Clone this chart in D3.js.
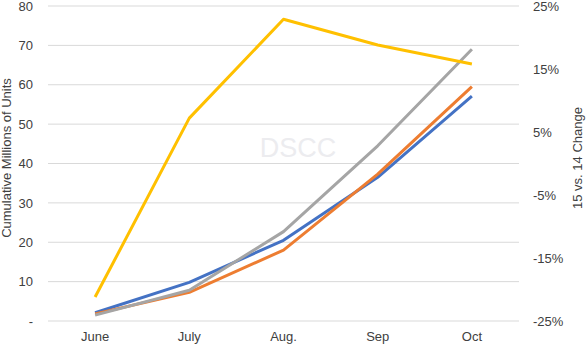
<!DOCTYPE html>
<html>
<head>
<meta charset="utf-8">
<script src="https://cdn.jsdelivr.net/npm/d3@7"></script>
<style>
  body { margin: 0; background: #fff; }
  svg { font-family: "Liberation Sans", Arial, sans-serif; }
</style>
</head>
<body>
<div id="chart"></div>
<script>
// data
var months = ["June", "July", "Aug.", "Sep", "Oct"];
var blueSeries = [2.1, 9.8, 20.5, 36.5, 57.1];
var orangeSeries = [1.8, 7.3, 18.0, 37.3, 59.5];
var graySeries = [1.5, 7.8, 22.7, 44.5, 69.0];
var changePct = [-21.2, 7.2, 22.9, 18.8, 15.8];
var leftTicks = [0, 10, 20, 30, 40, 50, 60, 70, 80];
var rightTicks = [-25, -15, -5, 5, 15, 25];

var width = 587, height = 354;
var margin = {top: 6, right: 68, bottom: 33, left: 48};

var svg = d3.select("#chart")
  .append("svg")
    .attr("width", width)
    .attr("height", height);

var x = d3.scaleBand()
  .domain(months)
  .range([margin.left, width - margin.right]);

var y = d3.scaleLinear()
  .domain([0, 80])
  .range([height - margin.bottom, margin.top]);

var y2 = d3.scaleLinear()
  .domain([-25, 25])
  .range([height - margin.bottom, margin.top]);

// gridlines
svg.append("g")
  .selectAll("line")
  .data(leftTicks)
  .enter()
  .append("line")
    .attr("x1", margin.left)
    .attr("x2", width - margin.right)
    .attr("y1", function(d) { return y(d); })
    .attr("y2", function(d) { return y(d); })
    .attr("stroke", "#d9d9d9")
    .attr("stroke-width", 1);

// watermark
svg.append("text")
  .attr("x", 298)
  .attr("y", 157)
  .attr("text-anchor", "middle")
  .attr("font-size", "27px")
  .attr("fill", "#ececef")
  .text("DSCC");

// left axis
var leftAxis = svg.append("g")
  .attr("transform", "translate(" + 33 + ",0)")
  .call(d3.axisLeft(y).tickValues(leftTicks).tickSize(0).tickPadding(0)
    .tickFormat(function(d) { return d === 0 ? "-" : d; }));
leftAxis.select(".domain").remove();
leftAxis.selectAll("text")
  .attr("font-size", "13px")
  .attr("fill", "#404040")
  .attr("font-family", "Liberation Sans, Arial, sans-serif");

// right axis
var rightAxis = svg.append("g")
  .attr("transform", "translate(" + 533 + ",0)")
  .call(d3.axisRight(y2).tickValues(rightTicks).tickSize(0).tickPadding(0)
    .tickFormat(function(d) { return d + "%"; }));
rightAxis.select(".domain").remove();
rightAxis.selectAll("text")
  .attr("font-size", "13px")
  .attr("fill", "#404040")
  .attr("font-family", "Liberation Sans, Arial, sans-serif");

// bottom axis
var bottomAxis = svg.append("g")
  .attr("transform", "translate(0," + (height - margin.bottom) + ")")
  .call(d3.axisBottom(x).tickSize(0).tickPadding(11));
bottomAxis.select(".domain").remove();
bottomAxis.selectAll("text")
  .attr("font-size", "13px")
  .attr("fill", "#404040")
  .attr("font-family", "Liberation Sans, Arial, sans-serif");

// axis titles
svg.append("text")
  .attr("transform", "translate(11,158) rotate(-90)")
  .attr("text-anchor", "middle")
  .attr("font-size", "13px")
  .attr("fill", "#404040")
  .text("Cumulative Millions of Units");

svg.append("text")
  .attr("transform", "translate(582,158) rotate(-90)")
  .attr("text-anchor", "middle")
  .attr("font-size", "13px")
  .attr("fill", "#404040")
  .text("15 vs. 14 Change");

function cx(i) { return x(months[i]) + x.bandwidth() / 2; }

var line = d3.line()
  .x(function(d, i) { return cx(i); })
  .y(function(d) { return y(d); });

var line2 = d3.line()
  .x(function(d, i) { return cx(i); })
  .y(function(d) { return y2(d); });

var series = [
  {values: blueSeries, color: "#4472c4"},
  {values: orangeSeries, color: "#ed7d31"},
  {values: graySeries, color: "#a5a5a5"}
];

series.forEach(function(s) {
  svg.append("path")
    .datum(s.values)
    .attr("d", line)
    .attr("fill", "none")
    .attr("stroke", s.color)
    .attr("stroke-width", 3)
    .attr("stroke-linejoin", "round");
});

svg.append("path")
  .datum(changePct)
  .attr("d", line2)
  .attr("fill", "none")
  .attr("stroke", "#ffc000")
  .attr("stroke-width", 3)
  .attr("stroke-linejoin", "round");
</script>
</body>
</html>
